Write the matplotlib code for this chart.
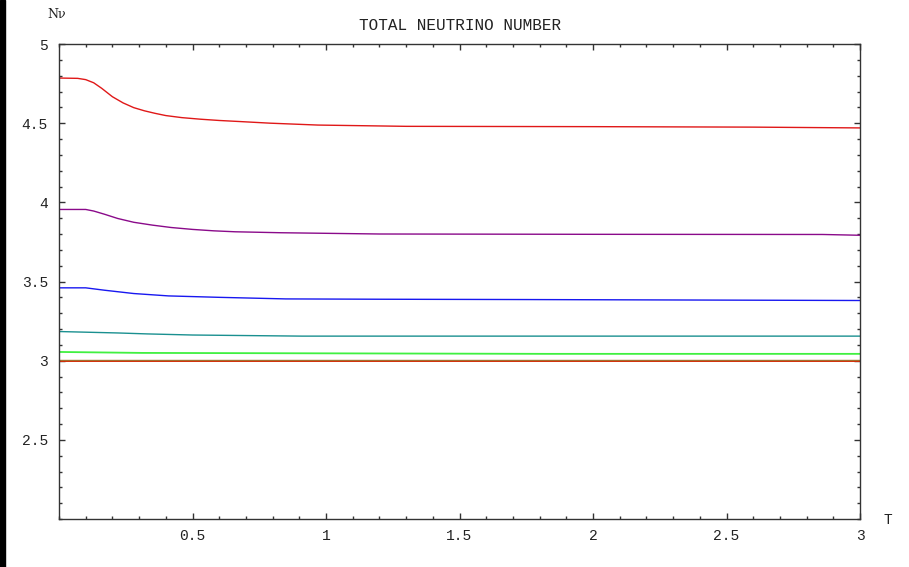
import matplotlib
matplotlib.use("Agg")
import matplotlib.pyplot as plt
from matplotlib.patches import Rectangle
from matplotlib.ticker import MultipleLocator

# Temperature grid per series and neutrino numbers
t_red = [0.0, 0.07, 0.10, 0.13, 0.16, 0.20, 0.24, 0.28, 0.32, 0.36, 0.40, 0.46, 0.53, 0.60, 0.68, 0.79, 0.97, 1.30, 2.0, 2.6, 3.0]
n_red = [4.785, 4.783, 4.775, 4.755, 4.72, 4.667, 4.628, 4.598, 4.578, 4.562, 4.548, 4.535, 4.525, 4.517, 4.51, 4.50, 4.488, 4.48, 4.478, 4.475, 4.47]

t_purple = [0.0, 0.10, 0.13, 0.17, 0.22, 0.28, 0.35, 0.42, 0.50, 0.58, 0.66, 0.83, 1.2, 2.0, 2.86, 3.0]
n_purple = [3.955, 3.955, 3.945, 3.925, 3.898, 3.874, 3.856, 3.841, 3.829, 3.82, 3.814, 3.808, 3.80, 3.798, 3.797, 3.792]

t_blue = [0.0, 0.10, 0.17, 0.28, 0.41, 0.60, 0.85, 1.2, 1.75, 3.0]
n_blue = [3.46, 3.46, 3.445, 3.424, 3.409, 3.40, 3.39, 3.388, 3.386, 3.38]

t_teal = [0.0, 0.22, 0.33, 0.50, 0.91, 3.0]
n_teal = [3.184, 3.175, 3.169, 3.162, 3.155, 3.155]

t_green = [0.0, 0.31, 1.83, 3.0]
n_green = [3.055, 3.049, 3.043, 3.043]

t_flat = [0.0, 3.0]
n_red0 = [3.0, 3.0]
n_brown = [3.004, 3.004]

x_ticks = [0.5, 1, 1.5, 2, 2.5, 3]
x_ticklabels = ["0.5", "1", "1.5", "2", "2.5", "3"]
y_ticks = [2.5, 3, 3.5, 4, 4.5, 5]
y_ticklabels = ["2.5", "3", "3.5", "4", "4.5", "5"]

W, H = 909, 567
fig = plt.figure(figsize=(W / 100, H / 100), dpi=100)
fig.patches.append(Rectangle((0, 0), 5 / W, 1, transform=fig.transFigure, color="black", zorder=0))

ax = fig.add_axes([59 / W, (H - 519) / H, (860 - 59) / W, (519 - 44) / H])

lw = 1.0
ax.plot(t_red, n_red, color="#e01818", lw=lw)
ax.plot(t_purple, n_purple, color="#8a0a8a", lw=lw)
ax.plot(t_blue, n_blue, color="#1818f0", lw=lw)
ax.plot(t_teal, n_teal, color="#1a9090", lw=lw)
ax.plot(t_green, n_green, color="#40f040", lw=1.3)
ax.plot(t_flat, n_red0, color="#e02000", lw=1.4)
ax.plot(t_flat, n_brown, color="#a07030", lw=1.0)

ax.set_xlim(0, 3)
ax.set_ylim(2, 5)
ax.set_xticks(x_ticks)
ax.set_xticklabels(x_ticklabels)
ax.set_yticks(y_ticks)
ax.set_yticklabels(y_ticklabels)
ax.xaxis.set_minor_locator(MultipleLocator(0.1))
ax.yaxis.set_minor_locator(MultipleLocator(0.1))

mono = "Liberation Mono"
for lab in ax.get_xticklabels() + ax.get_yticklabels():
    lab.set_family(mono)
    lab.set_fontsize(10.5)
    lab.set_color("#222222")

ax.tick_params(which="both", direction="in", top=True, right=True, color="#333333", width=1.0)
ax.tick_params(which="major", length=4.5)
ax.tick_params(which="minor", length=2.5)
ax.tick_params(axis="y", pad=8)
ax.tick_params(axis="x", pad=7)
for s in ax.spines.values():
    s.set_color("#333333")
    s.set_linewidth(1.0)

fig.text(460 / W, 1 - 25 / H, "TOTAL NEUTRINO NUMBER", family=mono, fontsize=11.5,
         ha="center", va="center", color="#222222")
fig.text(47 / W, 1 - 15 / H, "N\u03bd", family="DejaVu Serif", fontsize=9,
         ha="left", va="center", color="#222222")
fig.text(888 / W, 1 - 520 / H, "T", family=mono, fontsize=10.5,
         ha="center", va="center", color="#222222")

fig.savefig("out.png", dpi=100)
